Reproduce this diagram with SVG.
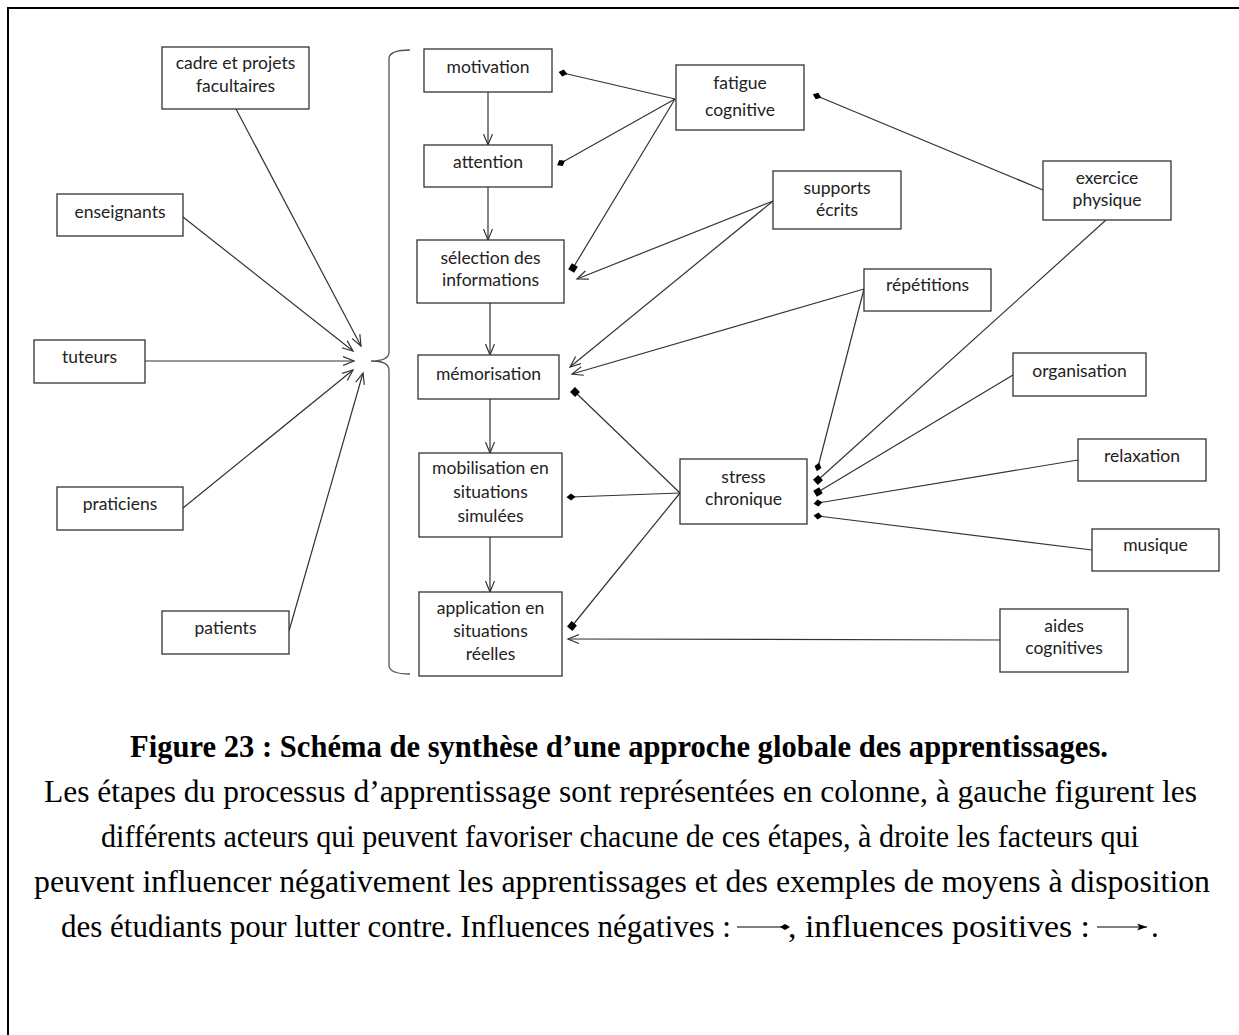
<svg xmlns="http://www.w3.org/2000/svg" width="1239" height="1035" viewBox="0 0 1239 1035">
<style>
.box{fill:#fff;stroke:#333;stroke-width:1.3}
.lbl{font-family:Lato,"Liberation Sans",sans-serif;font-size:17.5px;fill:#222;text-anchor:middle}
.pos{stroke:#333;stroke-width:1.2;fill:none;marker-end:url(#arr)}
.neg{stroke:#333;stroke-width:1.2;fill:none}
.dia{marker-end:url(#dia)}
.sq{marker-end:url(#sq)}
.cap{font-family:"Liberation Serif","Times New Roman",serif;font-size:31px;fill:#000}
</style>
<defs>
<marker id="arr" markerUnits="userSpaceOnUse" markerWidth="14" markerHeight="12" refX="11" refY="5" orient="auto">
<path d="M0,0.5 L11,5 L0,9.5" fill="none" stroke="#333" stroke-width="1.2"/>
</marker>
<marker id="dia" markerUnits="userSpaceOnUse" markerWidth="12" markerHeight="12" refX="5" refY="5" orient="auto">
<path d="M0.5,5 L5,1.5 L9.5,5 L5,8.5 Z" fill="#000"/>
</marker>
<marker id="sq" markerUnits="userSpaceOnUse" markerWidth="12" markerHeight="12" refX="4" refY="4" orient="auto">
<rect x="0.5" y="0.5" width="7" height="7" fill="#000"/>
</marker>
<marker id="ldia" markerUnits="userSpaceOnUse" markerWidth="12" markerHeight="12" refX="5" refY="5" orient="auto">
<path d="M0,5 L5,2 L10,5 L5,8 Z" fill="#000"/>
</marker>
<marker id="larr" markerUnits="userSpaceOnUse" markerWidth="14" markerHeight="12" refX="10" refY="5" orient="auto">
<path d="M0,1.5 L10,5 L0,8.5 L2.5,5 Z" fill="#000"/>
</marker>
</defs>
<rect width="1239" height="1035" fill="#fff"/>
<rect x="8" y="8" width="1260" height="1060" fill="none" stroke="#000" stroke-width="2"/>

<path d="M410,50 Q390,50 389,58 L389,352 Q389,361 371,361 Q389,361 389,370 L389,666 Q390,674 410,674" fill="none" stroke="#555" stroke-width="1.3"/>

<g id="connectors">
<line class="pos" x1="236" y1="109" x2="361" y2="346"/>
<line class="pos" x1="183" y1="217" x2="353" y2="351"/>
<line class="pos" x1="145" y1="361" x2="354" y2="361"/>
<line class="pos" x1="183" y1="508" x2="353" y2="370"/>
<line class="pos" x1="289" y1="631" x2="363" y2="373"/>

<line class="pos" x1="488" y1="92" x2="488" y2="145"/>
<line class="pos" x1="488" y1="187" x2="488" y2="240"/>
<line class="pos" x1="490" y1="303" x2="490" y2="355"/>
<line class="pos" x1="490" y1="399" x2="490" y2="453"/>
<line class="pos" x1="490" y1="537" x2="490" y2="592"/>

<line class="neg dia" x1="675" y1="99" x2="563" y2="73"/>
<line class="neg dia" x1="675" y1="99" x2="561" y2="163"/>
<line class="neg sq" x1="675" y1="99" x2="573" y2="268"/>
<line class="neg dia" x1="1043" y1="190" x2="817" y2="96"/>

<line class="pos" x1="773" y1="201" x2="577" y2="279"/>
<line class="pos" x1="773" y1="201" x2="570" y2="367"/>
<line class="pos" x1="864" y1="289" x2="572" y2="374"/>
<line class="neg dia" x1="864" y1="289" x2="818" y2="467"/>

<line class="neg sq" x1="680" y1="493" x2="575" y2="392"/>
<line class="neg dia" x1="680" y1="493" x2="571" y2="497"/>
<line class="neg sq" x1="680" y1="493" x2="572" y2="626"/>

<line class="neg sq" x1="1106" y1="220" x2="818" y2="480"/>
<line class="neg sq" x1="1013" y1="375" x2="818" y2="492"/>
<line class="neg dia" x1="1078" y1="460" x2="818" y2="503"/>
<line class="neg dia" x1="1092" y1="550" x2="818" y2="516"/>

<line class="pos" x1="1000" y1="640" x2="568" y2="639"/>
</g>

<g id="cadre"><rect class="box" x="162" y="47" width="147" height="62"/><text class="lbl" x="235.5" y="69">cadre et projets</text><text class="lbl" x="235.5" y="92">facultaires</text></g>
<g id="enseignants"><rect class="box" x="57" y="194" width="126" height="42"/><text class="lbl" x="120" y="218">enseignants</text></g>
<g id="tuteurs"><rect class="box" x="34" y="340" width="111" height="43"/><text class="lbl" x="89.5" y="363">tuteurs</text></g>
<g id="praticiens"><rect class="box" x="57" y="487" width="126" height="43"/><text class="lbl" x="120" y="510">praticiens</text></g>
<g id="patients"><rect class="box" x="162" y="611" width="127" height="43"/><text class="lbl" x="225.5" y="634">patients</text></g>

<g id="motivation"><rect class="box" x="424" y="49" width="128" height="43"/><text class="lbl" x="488" y="73">motivation</text></g>
<g id="attention"><rect class="box" x="424" y="145" width="128" height="42"/><text class="lbl" x="488" y="168">attention</text></g>
<g id="selection"><rect class="box" x="417" y="240" width="147" height="63"/><text class="lbl" x="490.5" y="264">sélection des</text><text class="lbl" x="490.5" y="286">informations</text></g>
<g id="memorisation"><rect class="box" x="418" y="355" width="141" height="44"/><text class="lbl" x="488.5" y="380">mémorisation</text></g>
<g id="mobilisation"><rect class="box" x="419" y="453" width="143" height="84"/><text class="lbl" x="490.5" y="474">mobilisation en</text><text class="lbl" x="490.5" y="498">situations</text><text class="lbl" x="490.5" y="522">simulées</text></g>
<g id="application"><rect class="box" x="419" y="592" width="143" height="84"/><text class="lbl" x="490.5" y="614">application en</text><text class="lbl" x="490.5" y="637">situations</text><text class="lbl" x="490.5" y="660">réelles</text></g>

<g id="fatigue"><rect class="box" x="676" y="65" width="128" height="65"/><text class="lbl" x="740" y="89">fatigue</text><text class="lbl" x="740" y="116">cognitive</text></g>
<g id="supports"><rect class="box" x="773" y="171" width="128" height="58"/><text class="lbl" x="837" y="194">supports</text><text class="lbl" x="837" y="216">écrits</text></g>
<g id="exercice"><rect class="box" x="1043" y="161" width="128" height="59"/><text class="lbl" x="1107" y="184">exercice</text><text class="lbl" x="1107" y="206">physique</text></g>
<g id="repetitions"><rect class="box" x="864" y="269" width="127" height="42"/><text class="lbl" x="927.5" y="291">répétitions</text></g>
<g id="organisation"><rect class="box" x="1013" y="353" width="133" height="43"/><text class="lbl" x="1079.5" y="377">organisation</text></g>
<g id="stress"><rect class="box" x="680" y="459" width="127" height="65"/><text class="lbl" x="743.5" y="483">stress</text><text class="lbl" x="743.5" y="505">chronique</text></g>
<g id="relaxation"><rect class="box" x="1078" y="439" width="128" height="42"/><text class="lbl" x="1142" y="462">relaxation</text></g>
<g id="musique"><rect class="box" x="1092" y="529" width="127" height="42"/><text class="lbl" x="1155.5" y="551">musique</text></g>
<g id="aides"><rect class="box" x="1000" y="609" width="128" height="63"/><text class="lbl" x="1064" y="632">aides</text><text class="lbl" x="1064" y="654">cognitives</text></g>

<g id="caption">
<text class="cap" x="130" y="757" font-weight="bold" textLength="978" lengthAdjust="spacingAndGlyphs">Figure 23 : Schéma de synthèse d’une approche globale des apprentissages.</text>
<text class="cap" x="44" y="802" textLength="1153" lengthAdjust="spacingAndGlyphs">Les étapes du processus d’apprentissage sont représentées en colonne, à gauche figurent les</text>
<text class="cap" x="101" y="847" textLength="1038" lengthAdjust="spacingAndGlyphs">différents acteurs qui peuvent favoriser chacune de ces étapes, à droite les facteurs qui</text>
<text class="cap" x="34" y="892" textLength="1176" lengthAdjust="spacingAndGlyphs">peuvent influencer négativement les apprentissages et des exemples de moyens à disposition</text>
<text class="cap" x="61" y="937" textLength="670" lengthAdjust="spacingAndGlyphs">des étudiants pour lutter contre. Influences négatives :</text>
<line x1="737" y1="927" x2="785" y2="927" stroke="#000" stroke-width="1.2" marker-end="url(#ldia)"/>
<text class="cap" x="788" y="937" textLength="302" lengthAdjust="spacingAndGlyphs">, influences positives :</text>
<line x1="1097" y1="927" x2="1147" y2="927" stroke="#000" stroke-width="1.2" marker-end="url(#larr)"/>
<text class="cap" x="1151" y="937">.</text>
</g>
</svg>
